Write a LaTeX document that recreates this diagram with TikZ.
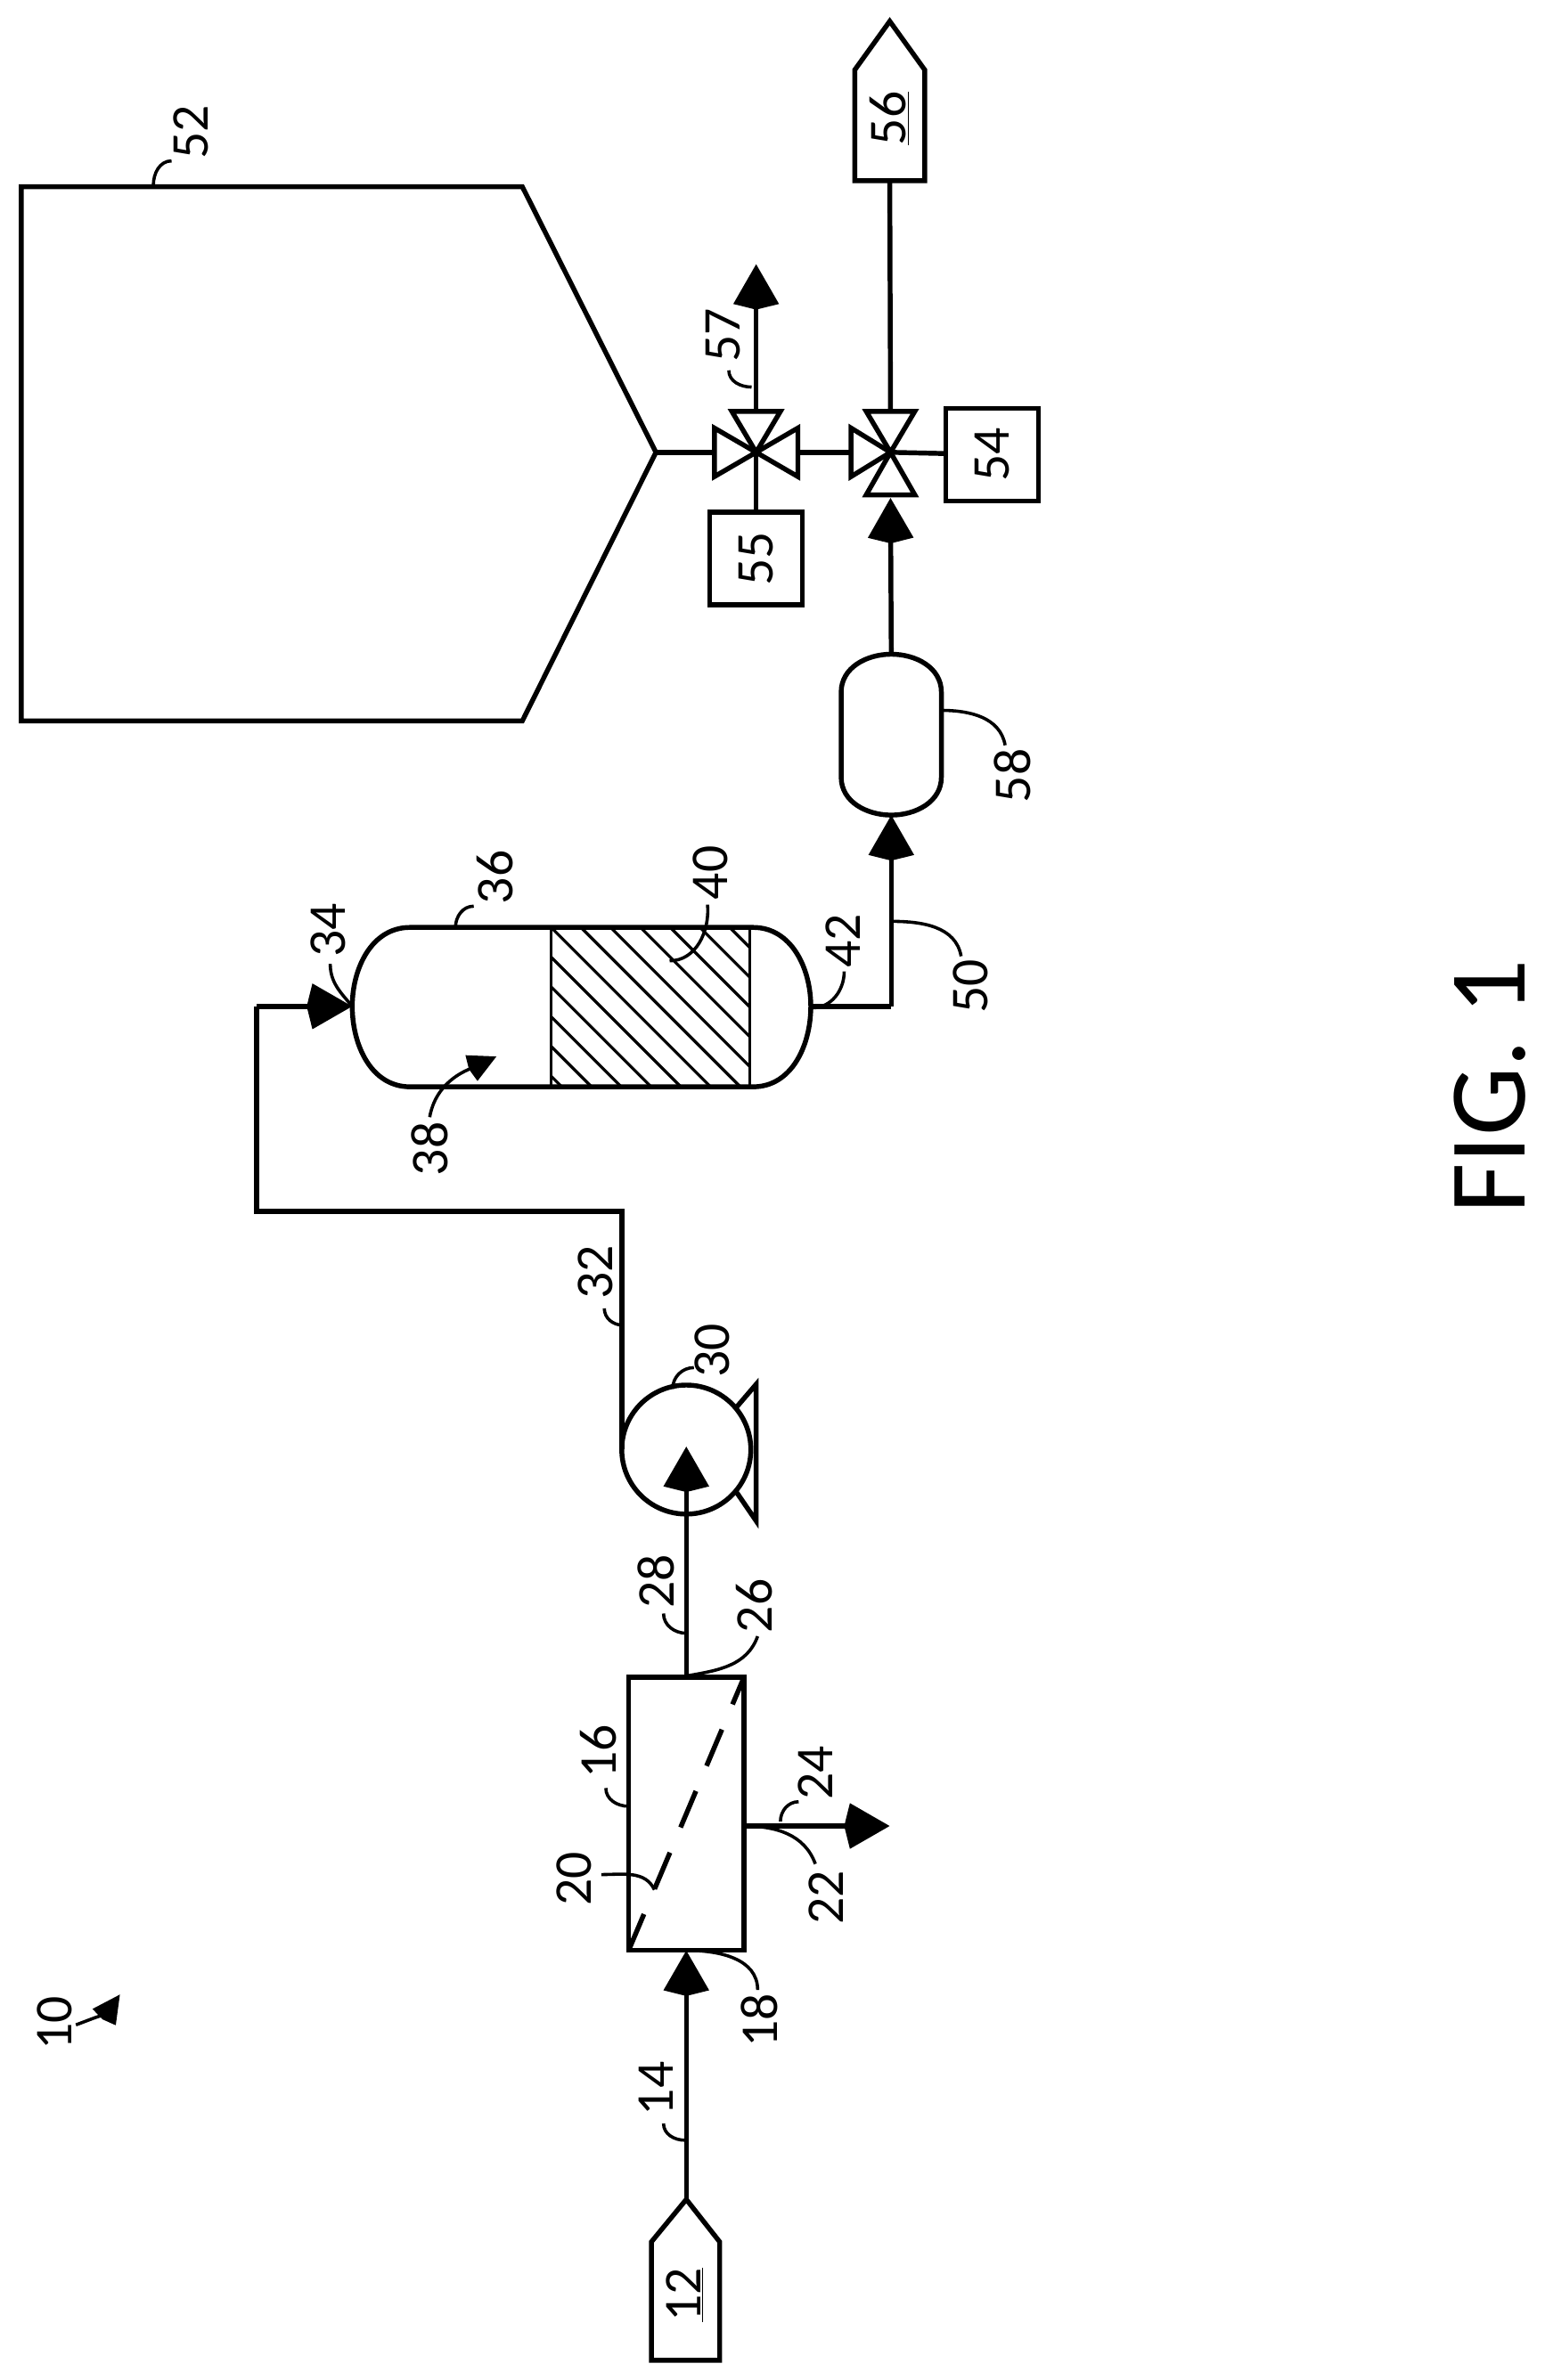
\documentclass[tikz,border=0pt]{standalone}
\usepackage{fontspec}
\setmainfont{Carlito}
\usetikzlibrary{arrows.meta}
\tikzset{
  pipe/.style={line width=3.2pt, line join=miter},
  flow/.style={pipe, -{Stealth[width=29pt,length=26pt,inset=-4pt]}},
  leader/.style={line width=2.1pt},
  smallhead/.style={leader, -{Stealth[width=18pt,length=18pt,inset=-2pt]}},
  num/.style={rotate=90, font=\fontsize{35}{35}\selectfont, inner sep=0pt},
  box/.style={draw, line width=3.2pt, rectangle, outer sep=0pt, inner sep=0pt},
  hatchline/.style={line width=1.9pt}
}
\begin{document}
\begin{tikzpicture}[x=1pt,y=1pt]
  \useasboundingbox (0,0) rectangle (1017,-1568);

  % storage vessel
  \coordinate (tip52) at (432,-298);
  \draw [pipe] (14,-123) -- (344,-123) -- (tip52) -- (344,-475) -- (14,-475) -- cycle;

  % valves
  \coordinate (v1) at (498,-298);
  \coordinate (v2) at (586.5,-298);
  \draw [pipe] (v1) -- ++(-27.5,16) -- ++(0,-32) -- cycle;
  \draw [pipe] (v1) -- ++(27.5,16) -- ++(0,-32) -- cycle;
  \draw [pipe] (v1) -- ++(-16,27) -- ++(32,0) -- cycle;
  \draw [pipe] (v2) -- ++(-26,16) -- ++(0,-32) -- cycle;
  \draw [pipe] (v2) -- ++(-16,27) -- ++(32,0) -- cycle;
  \draw [pipe] (v2) -- ++(-16,-28) -- ++(32,0) -- cycle;
  \node [box, minimum width=61pt, minimum height=61pt] (b54) at (653.5,-299.5) {};
  \node [box, minimum width=61pt, minimum height=61pt] (b55) at (498,-368) {};
  \node [num] (n54) at (b54) {54};
  \node [num] (n55) at (b55) {55};
  \coordinate (vl1) at (470.5,-298);
  \coordinate (vr1) at (525.5,-298);
  \coordinate (vl2) at (560.5,-298);
  \coordinate (vt1) at (498,-271);
  \coordinate (vt2) at (586.5,-271);
  \coordinate (vb2) at (586.5,-328);
  \coordinate (out57) at (498,-174);
  \draw [pipe] (tip52) -- (vl1);
  \draw [pipe] (vr1) -- (vl2);
  \draw [pipe] (v1) -- (b55);
  \draw [pipe] (v2) -- (b54);
  \draw [flow] (vt1) -- (out57);

  % product tag
  \coordinate (t56) at (586,-14);
  \coordinate (s56) at (586,-119);
  \draw [pipe] (s56) -- (609,-119) -- (609,-46) -- (t56) -- (563,-46) -- (563,-119) -- cycle;
  \node [num] (n56) at (586,-78) {\underline{56}};
  \draw [pipe] (vt2) -- (s56);

  % drum
  \coordinate (d1) at (587,-431);
  \coordinate (d2) at (587,-537);
  \draw [pipe] (554,-456) -- (554,-512) to[out=-90,in=180] (d2) to[out=0,in=-90] (620,-512)
    -- (620,-456) to[out=90,in=0] (d1) to[out=180,in=90] cycle;
  \draw [flow] (d1) -- (vb2);

  % adsorber
  \coordinate (in36) at (232,-663);
  \coordinate (out36) at (534,-663);
  \coordinate (c50) at (587,-663);
  \draw [pipe] (270,-611) -- (496,-611) to[out=0,in=90] (out36) to[out=-90,in=0] (496,-716)
    -- (270,-716) to[out=180,in=-90] (in36) to[out=90,in=180] cycle;
  \begin{scope}
    \clip (363,-611) rectangle (494,-716);
    \foreach \c in {-5,...,7}
      \draw [hatchline] (363+19.6*\c,-611) -- ++(140,-140);
  \end{scope}
  \draw [hatchline] (363,-611) -- (363,-716);
  \draw [hatchline] (494,-611) -- (494,-716);
  \draw [pipe] (out36) -- (c50);
  \draw [flow] (c50) -- (d2);

  % pump
  \node [box, circle, minimum size=85pt] (p30) at (452,-955) {};
  \coordinate (f1) at (498,-912);
  \coordinate (f2) at (498,-1002);
  \draw [pipe] (p30.-40) -- (f2) -- (f1) -- (p30.40);
  \coordinate (c1) at (409.5,-798);
  \coordinate (c2) at (169,-798);
  \coordinate (c3) at (169,-663);
  \draw [pipe] (p30.west) -- (c1) -- (c2) -- (c3);
  \draw [flow] (c3) -- (in36);

  % filter
  \node [box, minimum width=76pt, minimum height=180pt] (f16) at (452,-1195) {};
  \draw [pipe, dash pattern=on 26pt off 18pt] (f16.south west) -- (f16.north east);
  \coordinate (pin) at (452,-953);
  \draw [flow] (f16.north) -- (pin);
  \coordinate (out24) at (586,-1203);
  \coordinate (s24) at (490,-1203);
  \draw [flow] (s24) -- (out24);

  % feed tag
  \coordinate (t12) at (452,-1449);
  \draw [pipe] (t12) -- (474,-1477) -- (474,-1555) -- (429,-1555) -- (429,-1477) -- cycle;
  \node [num] (n12) at (451,-1512) {\underline{12}};
  \draw [flow] (t12) -- (f16.south);

  % reference numerals
  \node [num] (n10) at (36,-1333) {10};
  \coordinate (a10) at (50,-1334); \coordinate (b10) at (79,-1314);
  \draw [smallhead] (a10) to[out=20,in=-125] (b10);
  \node [num] (n14) at (432,-1376) {14};
  \coordinate (a14) at (451,-1410); \coordinate (b14) at (437,-1399);
  \draw [leader] (a14) to[out=180,in=-90] (b14);
  \node [num] (n18) at (500,-1331) {18};
  \coordinate (a18) at (453,-1285); \coordinate (b18) at (499,-1311);
  \draw [leader] (a18) to[out=0,in=90] (b18);
  \node [num] (n16) at (394,-1154) {16};
  \coordinate (a16) at (414,-1190); \coordinate (b16) at (399,-1178);
  \draw [leader] (a16) to[out=180,in=-90] (b16);
  \node [num] (n20) at (378,-1238) {20};
  \coordinate (a20) at (396,-1235); \coordinate (b20) at (431,-1245);
  \draw [leader] (a20) to[out=0,in=115] (b20);
  \node [num] (n22) at (544,-1250) {22};
  \coordinate (a22) at (490,-1203); \coordinate (b22) at (537,-1228);
  \draw [leader] (a22) to[out=0,in=110] (b22);
  \node [num] (n24) at (537,-1168) {24};
  \coordinate (a24) at (514,-1200); \coordinate (b24) at (526,-1187);
  \draw [leader] (a24) to[out=90,in=180] (b24);
  \node [num] (n26) at (497,-1058) {26};
  \coordinate (a26) at (453,-1104); \coordinate (b26) at (499,-1078);
  \draw [leader] (a26) to[out=10,in=-110] (b26);
  \node [num] (n28) at (432,-1042) {28};
  \coordinate (a28) at (452,-1076); \coordinate (b28) at (437,-1063);
  \draw [leader] (a28) to[out=180,in=-90] (b28);
  \node [num] (n30) at (469,-890) {30};
  \coordinate (a30) at (443,-915); \coordinate (b30) at (457,-901);
  \draw [leader] (a30) to[out=90,in=180] (b30);
  \node [num] (n32) at (392,-838) {32};
  \coordinate (a32) at (410,-873); \coordinate (b32) at (398,-862);
  \draw [leader] (a32) to[out=180,in=-90] (b32);
  \node [num] (n34) at (216,-613) {34};
  \coordinate (a34) at (232,-663); \coordinate (b34) at (217.5,-635);
  \draw [leader] (a34) to[out=130,in=-90] (b34);
  \node [num] (n36) at (326,-578) {36};
  \coordinate (a36) at (300,-611); \coordinate (b36) at (312,-597);
  \draw [leader] (a36) to[out=90,in=180] (b36);
  \node [num] (n38) at (283,-757) {38};
  \coordinate (a38) at (283,-736); \coordinate (b38) at (327,-696);
  \draw [smallhead] (a38) to[out=80,in=-155] (b38);
  \node [num] (n40) at (468,-575) {40};
  \coordinate (a40) at (441,-633); \coordinate (b40) at (466,-596);
  \draw [leader] (a40) to[out=0,in=-85] (b40);
  \node [num] (n42) at (555,-620) {42};
  \coordinate (a42) at (535,-664); \coordinate (b42) at (556,-640);
  \draw [leader] (a42) to[out=0,in=-90] (b42);
  \node [num] (n50) at (639,-650) {50};
  \coordinate (a50) at (587,-607); \coordinate (b50) at (633,-630);
  \draw [leader] (a50) to[out=0,in=100] (b50);
  \node [num] (n52) at (126,-87) {52};
  \coordinate (a52) at (101,-122); \coordinate (b52) at (113,-106);
  \draw [leader] (a52) to[out=90,in=180] (b52);
  \node [num] (n57) at (476,-221) {57};
  \coordinate (a57) at (495,-255); \coordinate (b57) at (480,-244);
  \draw [leader] (a57) to[out=180,in=-90] (b57);
  \node [num] (n58) at (667,-511) {58};
  \coordinate (a58) at (620,-468); \coordinate (b58) at (662,-491);
  \draw [leader] (a58) to[out=0,in=100] (b58);

  \node [rotate=90, inner sep=0pt, font=\fontsize{72}{72}\selectfont] (fig) at (981,-716) {FIG. 1};
\end{tikzpicture}
\end{document}
